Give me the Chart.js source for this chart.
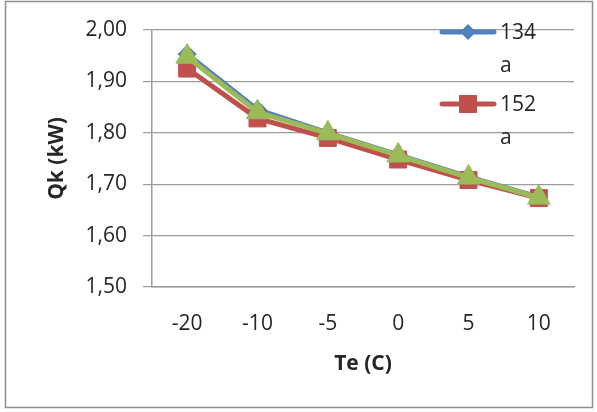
<!DOCTYPE html>
<html>
<head>
<meta charset="utf-8">
<script src="https://cdn.jsdelivr.net/npm/chart.js@4/dist/chart.umd.min.js"></script>
<style>
  html, body { margin: 0; padding: 0; background: #fff; }
  #wrap { width: 597px; height: 412px; position: relative; }
</style>
</head>
<body>
<div id="wrap"><canvas id="c" width="597" height="412"></canvas></div>
<script>
// Evaporation temperature (°C) on the category axis
const categories = ['-20', '-10', '-5', '0', '5', '10'];

// Condenser capacity Qk (kW) per refrigerant
const seriesNames = ['134a', '152a', 'Series 3'];
const qk134a = [1.953, 1.845, 1.800, 1.757, 1.714, 1.675];
const qk152a = [1.925, 1.828, 1.790, 1.748, 1.708, 1.673];
const qk3    = [1.948, 1.840, 1.799, 1.756, 1.713, 1.674];

// Value axis
const yTickValues = [1.50, 1.60, 1.70, 1.80, 1.90, 2.00];
const yTickLabels = ['1,50', '1,60', '1,70', '1,80', '1,90', '2,00'];

const BLUE = '#4F81BD', RED = '#C0504D', GREEN = '#9BBB59';
const GRID = '#9c9c9c';
const TEXT = '#262626';
const FONT = 'Open Sans';

// Outer frame around the whole chart
const framePlugin = {
  id: 'frame',
  beforeDraw(chart) {
    const ctx = chart.ctx;
    ctx.save();
    ctx.fillStyle = '#fff';
    ctx.fillRect(0, 0, chart.width, chart.height);
    ctx.strokeStyle = '#8e8e8e';
    ctx.lineWidth = 1.5;
    ctx.strokeRect(5.5, 1.5, 587, 406);
    ctx.restore();
  }
};

// Legend drawn inside the plot, names wrapped onto two lines
const insetLegend = {
  id: 'insetLegend',
  afterDraw(chart) {
    const ctx = chart.ctx;
    const rows = [32, 104];
    const markers = ['diamond', 'square'];
    ctx.save();
    ctx.font = '21px "' + FONT + '"';
    ctx.textBaseline = 'middle';
    ctx.textAlign = 'left';
    for (let i = 0; i < 2; i++) {
      const ds = chart.data.datasets[i];
      const y = rows[i];
      ctx.strokeStyle = ds.borderColor;
      ctx.lineWidth = 5;
      ctx.lineCap = 'round';
      ctx.beginPath();
      ctx.moveTo(442, y);
      ctx.lineTo(494, y);
      ctx.stroke();
      ctx.fillStyle = ds.backgroundColor;
      ctx.beginPath();
      if (markers[i] === 'diamond') {
        ctx.moveTo(468, y - 8); ctx.lineTo(476, y); ctx.lineTo(468, y + 8); ctx.lineTo(460, y);
      } else {
        ctx.rect(459, y - 9, 18, 18);
      }
      ctx.closePath();
      ctx.fill();
      const name = ds.label;
      ctx.fillStyle = TEXT;
      ctx.fillText(name.slice(0, 3), 500, y + 1);
      ctx.fillText(name.slice(3), 500, y + 34);
    }
    ctx.restore();
  }
};

new Chart(document.getElementById('c'), {
  type: 'line',
  data: {
    labels: categories,
    datasets: [
      { label: seriesNames[0], data: qk134a, borderColor: BLUE, backgroundColor: BLUE,
        pointStyle: 'rectRot', pointRadius: 9, order: 3 },
      { label: seriesNames[1], data: qk152a, borderColor: RED, backgroundColor: RED,
        pointStyle: 'rect', pointRadius: 12, order: 2 },
      { label: seriesNames[2], data: qk3, borderColor: GREEN, backgroundColor: GREEN,
        pointStyle: 'triangle', pointRadius: 13, order: 1 }
    ].map(d => Object.assign({ borderWidth: 5, pointBorderWidth: 1, tension: 0,
                               pointHoverRadius: d.pointRadius }, d))
  },
  options: {
    responsive: false,
    animation: false,
    devicePixelRatio: 1,
    layout: { padding: { top: 30, right: 23, left: 0, bottom: 0 } },
    plugins: { legend: { display: false }, tooltip: { enabled: false } },
    events: [],
    scales: {
      x: {
        offset: true,
        grid: { display: false, drawTicks: false },
        border: { display: true, color: GRID, width: 1.5 },
        ticks: { color: TEXT, font: { family: FONT, size: 21 }, padding: 24, maxRotation: 0 },
        title: { display: true, text: 'Te (C)', color: TEXT,
                 font: { family: FONT, size: 21, weight: 'bold' }, padding: { top: 0, bottom: 35 } },
        afterFit(s) { s.height = 125; }
      },
      y: {
        min: 1.5,
        max: 2.0,
        afterBuildTicks(s) { s.ticks = yTickValues.map(v => ({ value: v })); },
        grid: { color: GRID, lineWidth: 1.2, tickLength: 9, drawTicks: true },
        border: { display: true, color: GRID, width: 1.5 },
        ticks: {
          color: TEXT, font: { family: FONT, size: 21 }, padding: 16,
          callback(v) { const i = yTickValues.findIndex(t => Math.abs(t - v) < 1e-9); return i >= 0 ? yTickLabels[i] : ''; }
        },
        title: { display: true, text: 'Qk (kW)', color: TEXT,
                 font: { family: FONT, size: 21, weight: 'bold' }, padding: { top: 44, bottom: 0 } },
        afterFit(s) { s.width = 152; }
      }
    }
  },
  plugins: [framePlugin, insetLegend]
});
</script>
</body>
</html>
